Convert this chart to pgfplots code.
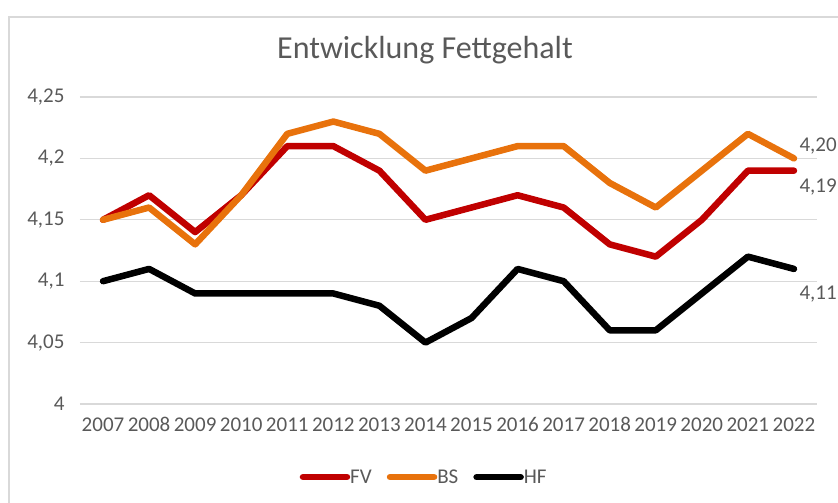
\documentclass[border=0pt]{standalone}
\usepackage{pgfplots}
\pgfplotsset{compat=1.18}
\usepackage{fontspec}
\setmainfont{Carlito}
\definecolor{fv}{RGB}{192,0,0}
\definecolor{bs}{RGB}{232,114,12}
\definecolor{txt}{RGB}{89,89,89}
\begin{document}
\begin{tikzpicture}[x=1pt,y=1pt]
\path[use as bounding box] (0,0) rectangle (838,503);
\draw[gray!30, line width=1.5pt] (9,0) -- (9,486) -- (838,486);
\node[txt, font=\fontsize{32}{38}\selectfont] at (425,453) {Entwicklung Fettgehalt};
\begin{axis}[
  at={(80pt,99pt)}, anchor=south west, scale only axis,
  width=737pt, height=307pt,
  xmin=2006.5, xmax=2022.5, ymin=4, ymax=4.25,
  xtick={2007,...,2022},
  ytick={4,4.05,4.1,4.15,4.2,4.25},
  yticklabels={4,{4,05},{4,1},{4,15},{4,2},{4,25}},
  /pgf/number format/.cd, 1000 sep={}, assume math mode=true, /pgfplots/.cd,
  major tick length=0pt,
  axis line style={draw=none},
  ymajorgrids, grid style={gray!30, line width=1.3pt},
  tick label style={txt, font=\fontsize{21}{25}\selectfont},
  yticklabel style={xshift=-12pt},
  xticklabel style={yshift=-10pt},
  clip=false,
  legend style={at={(0.467,-0.238)}, anchor=center, draw=none, fill=none,
    legend columns=3, font=\fontsize{21}{25}\selectfont, text=txt,
    /tikz/every even column/.append style={column sep=13pt},
    /tikz/every odd column/.append style={column sep=-2pt},
    inner sep=0pt},
  legend image code/.code={\draw[#1,line cap=round] (3pt,0pt) -- (47pt,0pt);},
  every axis plot/.append style={line width=6.5pt, line join=round, line cap=round},
]
\addplot[fv] coordinates {(2007,4.15)(2008,4.17)(2009,4.14)(2010,4.17)(2011,4.21)(2012,4.21)(2013,4.19)(2014,4.15)(2015,4.16)(2016,4.17)(2017,4.16)(2018,4.13)(2019,4.12)(2020,4.15)(2021,4.19)(2022,4.19)};
\addlegendentry{FV}
\addplot[bs] coordinates {(2007,4.15)(2008,4.16)(2009,4.13)(2010,4.17)(2011,4.22)(2012,4.23)(2013,4.22)(2014,4.19)(2015,4.20)(2016,4.21)(2017,4.21)(2018,4.18)(2019,4.16)(2020,4.19)(2021,4.22)(2022,4.20)};
\addlegendentry{BS}
\addplot[black] coordinates {(2007,4.10)(2008,4.11)(2009,4.09)(2010,4.09)(2011,4.09)(2012,4.09)(2013,4.08)(2014,4.05)(2015,4.07)(2016,4.11)(2017,4.10)(2018,4.06)(2019,4.06)(2020,4.09)(2021,4.12)(2022,4.11)};
\addlegendentry{HF}
\node[txt, font=\fontsize{21}{25}\selectfont, anchor=west] at (axis cs:2022,4.20) [xshift=2pt, yshift=12pt] {4,20};
\node[txt, font=\fontsize{21}{25}\selectfont, anchor=west] at (axis cs:2022,4.19) [xshift=2pt, yshift=-16pt] {4,19};
\node[txt, font=\fontsize{21}{25}\selectfont, anchor=west] at (axis cs:2022,4.11) [xshift=2pt, yshift=-25pt] {4,11};
\end{axis}
\end{tikzpicture}
\end{document}
